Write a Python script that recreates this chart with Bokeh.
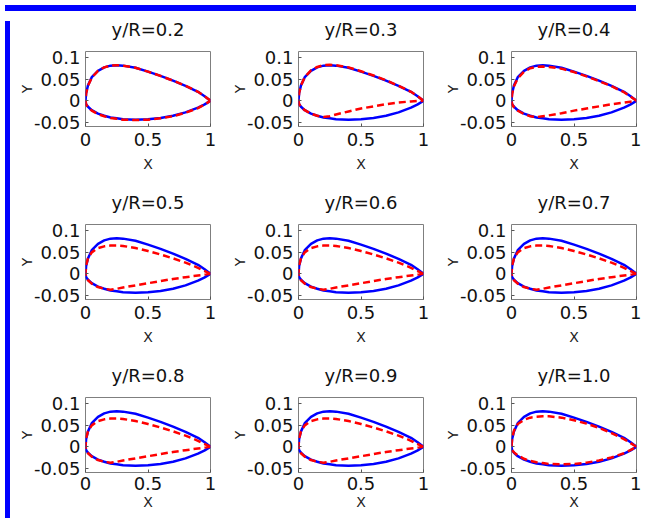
from bokeh.plotting import figure
from bokeh.layouts import column, row
from bokeh.models import Div, FixedTicker, Title
from bokeh.embed import file_html
from bokeh.resources import INLINE

# ---------------- data ----------------
stations = ["y/R=0.2", "y/R=0.3", "y/R=0.4",
            "y/R=0.5", "y/R=0.6", "y/R=0.7",
            "y/R=0.8", "y/R=0.9", "y/R=1.0"]

x_chord = [0, 0.005, 0.02, 0.05, 0.1, 0.15, 0.2, 0.25, 0.3, 0.4, 0.5, 0.6, 0.7, 0.8, 0.9, 0.95, 1.0]

# target profile (blue, solid) – same at every station
blue_up = [0, 0.018, 0.036, 0.055, 0.070, 0.078, 0.082, 0.083, 0.082, 0.077, 0.068, 0.058, 0.047, 0.035, 0.021, 0.011, 0]
blue_lo = [0, -0.008, -0.014, -0.022, -0.030, -0.035, -0.039, -0.041, -0.043, -0.044, -0.043, -0.040, -0.035, -0.027, -0.016, -0.009, 0]

# reconstructed profiles (red, dashed)
red_up_02 = [0, 0.017, 0.035, 0.054, 0.070, 0.078, 0.082, 0.083, 0.082, 0.077, 0.068, 0.058, 0.047, 0.035, 0.021, 0.011, 0]
red_lo_02 = [0, -0.009, -0.015, -0.023, -0.031, -0.036, -0.040, -0.042, -0.044, -0.045, -0.044, -0.041, -0.036, -0.028, -0.017, -0.009, 0]
red_up_03 = [0, 0.018, 0.036, 0.055, 0.071, 0.079, 0.083, 0.084, 0.083, 0.078, 0.069, 0.059, 0.048, 0.035, 0.021, 0.011, 0]
red_lo_03 = [0, -0.008, -0.014, -0.022, -0.030, -0.035, -0.038, -0.036, -0.032, -0.025, -0.018, -0.013, -0.008, -0.004, -0.0015, -0.0005, 0]
red_up_04 = [0, 0.016, 0.034, 0.052, 0.068, 0.076, 0.079, 0.080, 0.079, 0.075, 0.067, 0.057, 0.046, 0.034, 0.020, 0.010, 0]
red_lo_04 = [0, -0.008, -0.015, -0.023, -0.031, -0.036, -0.038, -0.036, -0.034, -0.029, -0.023, -0.018, -0.013, -0.008, -0.004, -0.002, 0]
red_up_05 = [0, 0.020, 0.036, 0.050, 0.060, 0.064, 0.066, 0.066, 0.065, 0.060, 0.053, 0.045, 0.036, 0.026, 0.014, 0.007, 0]
red_lo_05 = [0, -0.008, -0.015, -0.023, -0.031, -0.035, -0.037, -0.035, -0.032, -0.027, -0.022, -0.017, -0.012, -0.008, -0.004, -0.002, 0]
red_up_06 = [0, 0.020, 0.036, 0.050, 0.060, 0.064, 0.066, 0.066, 0.065, 0.060, 0.053, 0.045, 0.036, 0.026, 0.014, 0.007, 0]
red_lo_06 = [0, -0.008, -0.015, -0.023, -0.031, -0.035, -0.037, -0.035, -0.032, -0.027, -0.022, -0.017, -0.012, -0.008, -0.004, -0.002, 0]
red_up_07 = [0, 0.020, 0.036, 0.050, 0.060, 0.064, 0.066, 0.066, 0.065, 0.060, 0.053, 0.045, 0.036, 0.026, 0.014, 0.007, 0]
red_lo_07 = [0, -0.008, -0.015, -0.023, -0.031, -0.035, -0.037, -0.035, -0.032, -0.027, -0.022, -0.017, -0.012, -0.008, -0.004, -0.002, 0]
red_up_08 = [0, 0.020, 0.036, 0.050, 0.060, 0.064, 0.066, 0.066, 0.065, 0.060, 0.053, 0.045, 0.036, 0.026, 0.014, 0.007, 0]
red_lo_08 = [0, -0.008, -0.015, -0.023, -0.031, -0.035, -0.037, -0.035, -0.032, -0.027, -0.022, -0.017, -0.012, -0.008, -0.004, -0.002, 0]
red_up_09 = [0, 0.020, 0.036, 0.050, 0.060, 0.064, 0.066, 0.066, 0.065, 0.060, 0.053, 0.045, 0.036, 0.026, 0.014, 0.007, 0]
red_lo_09 = [0, -0.008, -0.015, -0.023, -0.031, -0.035, -0.037, -0.035, -0.032, -0.027, -0.022, -0.017, -0.012, -0.008, -0.004, -0.002, 0]
red_up_10 = [0, 0.020, 0.038, 0.053, 0.063, 0.068, 0.070, 0.071, 0.071, 0.068, 0.062, 0.054, 0.044, 0.032, 0.018, 0.009, 0]
red_lo_10 = [0, -0.008, -0.013, -0.020, -0.028, -0.033, -0.036, -0.038, -0.040, -0.041, -0.040, -0.037, -0.032, -0.025, -0.015, -0.008, 0]

red_ups = [red_up_02, red_up_03, red_up_04, red_up_05, red_up_06, red_up_07, red_up_08, red_up_09, red_up_10]
red_los = [red_lo_02, red_lo_03, red_lo_04, red_lo_05, red_lo_06, red_lo_07, red_lo_08, red_lo_09, red_lo_10]

x_ticks = [0, 0.5, 1]
x_tick_labels = ["0", "0.5", "1"]
y_ticks = [-0.05, 0, 0.05, 0.1]
y_tick_labels = ["-0.05", "0", "0.05", "0.1"]
x_lim = (0, 1)
y_lim = (-0.06, 0.115)

# ---------------- style ----------------
FONT = "DejaVu Sans"
FRAME_W = 125
FRAME_H = 77
LEFT = 70
TOP = 33


def contour(up, lo):
    xs = list(reversed(x_chord)) + x_chord[1:]
    ys = list(reversed(up)) + lo[1:]
    return xs, ys


def panel(i):
    c = i % 3
    r = i // 3
    right = 18 if c < 2 else 5
    bottom = 63 if r < 2 else 41
    p = figure(width=LEFT + FRAME_W + right, height=TOP + FRAME_H + bottom,
               x_range=x_lim, y_range=y_lim, output_backend="svg",
               toolbar_location=None, title=None,
               min_border_left=LEFT, min_border_right=right,
               min_border_top=TOP, min_border_bottom=bottom)
    p.background_fill_color = "white"
    p.border_fill_color = "white"
    p.outline_line_color = "#7f7f7f"
    p.outline_line_width = 1
    p.grid.visible = False

    # small blank band between the box and the panel title
    p.add_layout(Title(text=" ", text_font_size="9px", standoff=0), "above")
    p.add_layout(Title(text=stations[i], align="center", text_font=FONT,
                       text_font_size="18px", text_font_style="normal",
                       text_color="#111111", standoff=0), "above")

    p.xaxis.ticker = FixedTicker(ticks=x_ticks)
    p.xaxis.major_label_overrides = dict(zip(x_ticks, x_tick_labels))
    p.yaxis.ticker = FixedTicker(ticks=y_ticks)
    p.yaxis.major_label_overrides = dict(zip(y_ticks, y_tick_labels))
    p.xaxis.axis_label = "X"
    p.yaxis.axis_label = "Y"
    for ax in (p.xaxis, p.yaxis):
        ax.axis_line_color = None
        ax.major_tick_in = 3
        ax.major_tick_out = 0
        ax.major_tick_line_color = "#555555"
        ax.minor_tick_line_color = None
        ax.major_label_text_font = FONT
        ax.major_label_text_font_size = "18px"
        ax.major_label_text_color = "#111111"
        ax.axis_label_text_font = FONT
        ax.axis_label_text_font_size = "14px"
        ax.axis_label_text_font_style = "normal"
        ax.axis_label_text_color = "#222222"
    p.xaxis.major_label_standoff = 6 if r < 2 else 4
    p.xaxis.axis_label_standoff = 7 if r < 2 else 1
    p.yaxis.major_label_standoff = 5
    p.yaxis.axis_label_standoff = -4

    bx, by = contour(blue_up, blue_lo)
    rx, ry = contour(red_ups[i], red_los[i])
    p.line(bx, by, line_color="#0000ff", line_width=2.5)
    p.line(rx, ry, line_color="#ff0000", line_width=2.5, line_dash="7 4")
    return p


figs = [panel(i) for i in range(9)]
grid = column(row(*figs[0:3]), row(*figs[3:6]), row(*figs[6:9]))

total_w = 5 + sum(f.width for f in figs[0:3])
total_h = sum(f.height for f in figs[0::3])
top_bar = Div(text="", width=total_w, height=6, styles={"background-color": "#0000ff"})
left_bar = Div(text="", width=5, height=total_h, styles={"background-color": "#0000ff"})

layout = column(top_bar, row(left_bar, grid))

open("out.html", "w").write(file_html(layout, INLINE))
